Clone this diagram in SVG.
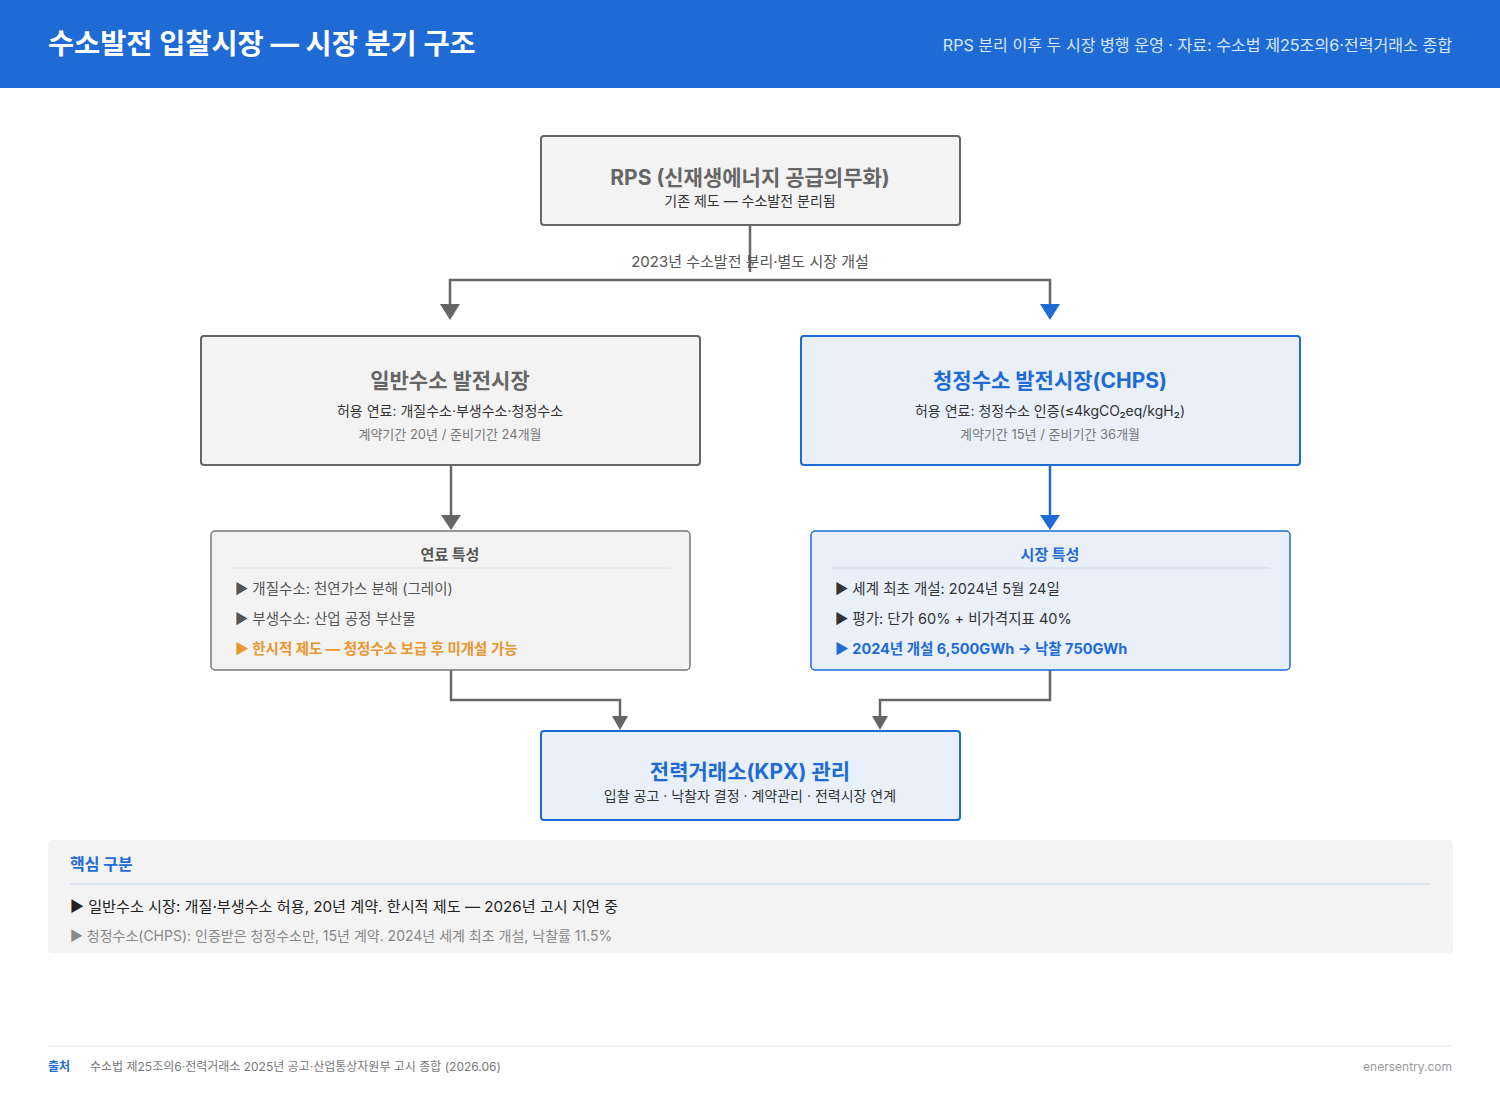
<svg xmlns="http://www.w3.org/2000/svg" width="1500" height="1100" viewBox="0 0 1500 1100">
<defs>
<style>
text{font-family:Inter,"Noto Sans CJK KR","Noto Sans",sans-serif;}
.c{text-anchor:middle;}
.gbox{fill:#f3f3f3;stroke:#666;stroke-width:2;}
.bbox{fill:#e9f0fa;stroke:#1e6bd6;stroke-width:2;}
.gline{fill:none;stroke:#666;stroke-width:2.5;}
.bline{fill:none;stroke:#1e6bd6;stroke-width:2.5;}
.t-g{font-size:21px;font-weight:700;fill:#666;}
.t-b{font-size:21px;font-weight:700;fill:#1e6bd6;}
.sub{font-size:14px;fill:#333;}
.small{font-size:13px;fill:#777;}
.item{font-size:14.5px;fill:#555;}
.itemd{font-size:14.5px;fill:#333;}
</style>
</defs>
<rect width="1500" height="1100" fill="#fff"/>
<g id="header">
<rect x="0" y="0" width="1500" height="88" fill="#1e6bd6"/>
<text x="48" y="54" font-size="28.4" font-weight="700" fill="#fff">수소발전 입찰시장 — 시장 분기 구조</text>
<text x="1452" y="51" font-size="16.1" fill="#dbe6f7" text-anchor="end">RPS 분리 이후 두 시장 병행 운영 · 자료: 수소법 제25조의6·전력거래소 종합</text>
</g>
<g id="connectors">
<path class="gline" d="M750,225 V272"/>
<path class="gline" d="M450,304 V280 H1050 V304"/>
<path d="M440,304 L460,304 L450,320 Z" fill="#666"/>
<path d="M1040,304 L1060,304 L1050,320 Z" fill="#1e6bd6"/>
<text x="750" y="267" class="c" font-size="15" fill="#555">2023년 수소발전 분리·별도 시장 개설</text>
<path class="gline" d="M451,465 V516"/>
<path d="M441,515 L461,515 L451,530 Z" fill="#666"/>
<path class="bline" d="M1050,465 V516"/>
<path d="M1040,515 L1060,515 L1050,530 Z" fill="#1e6bd6"/>
<path class="gline" d="M451,670 V700 H620 V716"/>
<path d="M612,716 L628,716 L620,730 Z" fill="#666"/>
<path class="gline" d="M1050,670 V700 H880 V716"/>
<path d="M872,716 L888,716 L880,730 Z" fill="#666"/>
</g>
<g id="rps">
<rect class="gbox" x="541" y="136" width="419" height="89" rx="3"/>
<text x="750" y="185" class="c t-g" font-size="22">RPS (신재생에너지 공급의무화)</text>
<text x="750" y="206" class="c sub">기존 제도 — 수소발전 분리됨</text>
</g>
<g id="general-market">
<rect class="gbox" x="201" y="336" width="499" height="129" rx="3"/>
<text x="450" y="388" class="c t-g">일반수소 발전시장</text>
<text x="450" y="416" class="c sub">허용 연료: 개질수소·부생수소·청정수소</text>
<text x="450" y="439" class="c small">계약기간 20년 / 준비기간 24개월</text>
</g>
<g id="chps-market">
<rect class="bbox" x="801" y="336" width="499" height="129" rx="3"/>
<text x="1050" y="388" class="c t-b">청정수소 발전시장(CHPS)</text>
<text x="1050" y="416" class="c sub">허용 연료: 청정수소 인증(≤4kgCO₂eq/kgH₂)</text>
<text x="1050" y="439" class="c small">계약기간 15년 / 준비기간 36개월</text>
</g>
<g id="fuel-traits">
<rect x="211" y="531" width="479" height="139" rx="4" fill="#f3f3f3" stroke="#777" stroke-width="1.5"/>
<text x="450" y="560" class="c" font-size="15" font-weight="700" fill="#555">연료 특성</text>
<line x1="231" y1="568" x2="670" y2="568" stroke="#e0e0e0" stroke-width="1"/>
<text x="235" y="594" class="item">▶ 개질수소: 천연가스 분해 (그레이)</text>
<text x="235" y="624" class="item">▶ 부생수소: 산업 공정 부산물</text>
<text x="235" y="654" font-size="14.5" font-weight="700" fill="#e8962e">▶ 한시적 제도 — 청정수소 보급 후 미개설 가능</text>
</g>
<g id="market-traits">
<rect x="811" y="531" width="479" height="139" rx="4" fill="#e9f0fa" stroke="#1e6bd6" stroke-width="1.5"/>
<text x="1050" y="560" class="c" font-size="15" font-weight="700" fill="#1e6bd6">시장 특성</text>
<line x1="831" y1="568" x2="1270" y2="568" stroke="#cdd9ec" stroke-width="1"/>
<text x="835" y="594" class="itemd">▶ 세계 최초 개설: 2024년 5월 24일</text>
<text x="835" y="624" class="itemd">▶ 평가: 단가 60% + 비가격지표 40%</text>
<text x="835" y="654" font-size="14.5" font-weight="700" fill="#1e6bd6">▶ 2024년 개설 6,500GWh → 낙찰 750GWh</text>
</g>
<g id="kpx">
<rect class="bbox" x="541" y="731" width="419" height="89" rx="3"/>
<text x="750" y="779" class="c t-b">전력거래소(KPX) 관리</text>
<text x="750" y="801" class="c sub">입찰 공고 · 낙찰자 결정 · 계약관리 · 전력시장 연계</text>
</g>
<g id="key-panel">
<rect x="48" y="840" width="1405" height="113" rx="4" fill="#f3f3f3"/>
<text x="70" y="870" font-size="16" font-weight="700" fill="#1e6bd6">핵심 구분</text>
<line x1="70" y1="884" x2="1431" y2="884" stroke="#c8d4ea" stroke-width="1"/>
<text x="70" y="912" font-size="15.15" fill="#222">▶ 일반수소 시장: 개질·부생수소 허용, 20년 계약. 한시적 제도 — 2026년 고시 지연 중</text>
<text x="70" y="941" font-size="14" fill="#888">▶ 청정수소(CHPS): 인증받은 청정수소만, 15년 계약. 2024년 세계 최초 개설, 낙찰률 11.5%</text>
</g>
<g id="footer">
<line x1="48" y1="1046" x2="1452" y2="1046" stroke="#e5e5ea" stroke-width="1"/>
<text x="48" y="1071" font-size="12" font-weight="700" fill="#1e6bd6">출처</text>
<text x="90" y="1071" font-size="12" fill="#777">수소법 제25조의6·전력거래소 2025년 공고·산업통상자원부 고시 종합 (2026.06)</text>
<text x="1452" y="1071" font-size="12" fill="#999" text-anchor="end">enersentry.com</text>
</g>
</svg>
